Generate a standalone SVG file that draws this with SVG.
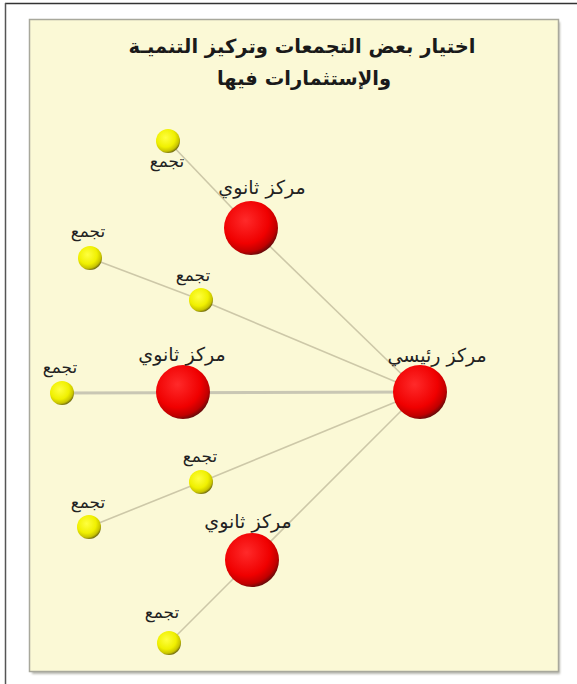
<svg xmlns="http://www.w3.org/2000/svg" width="577" height="684" viewBox="0 0 577 684">
  <style>
    .title { font-family: "DejaVu Sans", sans-serif; font-size: 19.5px; font-weight: bold; fill: #1a1a1a; text-anchor: middle; }
    .lbl-main { font-family: "DejaVu Sans", sans-serif; font-size: 19px; fill: #222; text-anchor: middle; }
    .lbl-small { font-family: "DejaVu Sans", sans-serif; font-size: 17px; fill: #222; text-anchor: middle; }
    .link { stroke: #cdc8a8; stroke-width: 1.6; fill: none; }
    .link-thick { stroke: #c9c7b4; stroke-width: 3; fill: none; }
  </style>
  <defs>
    <radialGradient id="redBall" cx="0.4" cy="0.36" r="0.66">
      <stop offset="0" stop-color="#ff2a2a"/>
      <stop offset="0.65" stop-color="#f00000"/>
      <stop offset="0.88" stop-color="#c00000"/>
      <stop offset="1" stop-color="#6a0a0a"/>
    </radialGradient>
    <radialGradient id="yellowBall" cx="0.4" cy="0.36" r="0.66">
      <stop offset="0" stop-color="#ffff40"/>
      <stop offset="0.6" stop-color="#f0f000"/>
      <stop offset="0.86" stop-color="#c8c400"/>
      <stop offset="1" stop-color="#6f6a10"/>
    </radialGradient>
    <filter id="shadow" x="-30%" y="-30%" width="160%" height="160%">
      <feGaussianBlur stdDeviation="1.2"/>
    </filter>
  </defs>

  <!-- page frame -->
  <rect x="0" y="0" width="577" height="684" fill="#ffffff"/>
  <line x1="5" y1="3.5" x2="577" y2="3.5" stroke="#333" stroke-width="1.5"/>
  <line x1="5.5" y1="3" x2="5.5" y2="684" stroke="#555" stroke-width="1.5"/>

  <!-- panel -->
  <rect x="32" y="22" width="528" height="652" fill="#b8b8b0" filter="url(#shadow)"/>
  <rect x="29.5" y="19.5" width="529" height="652" fill="#fbf9d6" stroke="#a8a89c" stroke-width="1.5"/>

  <!-- title -->
  <g id="title">
    <text class="title" x="302" y="53">اختيار بعض التجمعات وتركيز التنميـة</text>
    <text class="title" x="304" y="85">والإستثمارات فيها</text>
  </g>

  <!-- connectors -->
  <g id="connectors">
    <line class="link" x1="420" y1="392" x2="251" y2="228"/>
    <line class="link" x1="251" y1="228" x2="168" y2="141"/>
    <line class="link" x1="420" y1="392" x2="201" y2="300"/>
    <line class="link" x1="201" y1="300" x2="90" y2="258"/>
    <line class="link-thick" x1="420" y1="392" x2="62" y2="393"/>
    <line class="link" x1="420" y1="392" x2="201" y2="482"/>
    <line class="link" x1="201" y1="482" x2="89" y2="527"/>
    <line class="link" x1="420" y1="392" x2="252" y2="560"/>
    <line class="link" x1="252" y1="560" x2="169" y2="643"/>
  </g>

  <!-- main centre -->
  <g id="main-centre">
    <circle cx="420" cy="392" r="27" fill="url(#redBall)"/>
    <text class="lbl-main" x="437" y="362">مركز رئيسي</text>
  </g>

  <!-- secondary centres -->
  <g id="secondary-1">
    <circle cx="251" cy="228" r="27" fill="url(#redBall)"/>
    <text class="lbl-main" x="262" y="194">مركز ثانوي</text>
  </g>
  <g id="secondary-2">
    <circle cx="183" cy="392" r="27" fill="url(#redBall)"/>
    <text class="lbl-main" x="182" y="361">مركز ثانوي</text>
  </g>
  <g id="secondary-3">
    <circle cx="252" cy="560" r="27" fill="url(#redBall)"/>
    <text class="lbl-main" x="248" y="528">مركز ثانوي</text>
  </g>

  <!-- settlements -->
  <g id="settlement-1">
    <circle cx="168" cy="141" r="12" fill="url(#yellowBall)"/>
    <text class="lbl-small" x="167" y="167">تجمع</text>
  </g>
  <g id="settlement-2">
    <circle cx="90" cy="258" r="12" fill="url(#yellowBall)"/>
    <text class="lbl-small" x="88" y="237">تجمع</text>
  </g>
  <g id="settlement-3">
    <circle cx="201" cy="300" r="12" fill="url(#yellowBall)"/>
    <text class="lbl-small" x="193" y="281">تجمع</text>
  </g>
  <g id="settlement-4">
    <circle cx="62" cy="393" r="12" fill="url(#yellowBall)"/>
    <text class="lbl-small" x="60" y="373">تجمع</text>
  </g>
  <g id="settlement-5">
    <circle cx="201" cy="482" r="12" fill="url(#yellowBall)"/>
    <text class="lbl-small" x="200" y="462">تجمع</text>
  </g>
  <g id="settlement-6">
    <circle cx="89" cy="527" r="12" fill="url(#yellowBall)"/>
    <text class="lbl-small" x="88" y="508">تجمع</text>
  </g>
  <g id="settlement-7">
    <circle cx="169" cy="643" r="12" fill="url(#yellowBall)"/>
    <text class="lbl-small" x="162" y="618">تجمع</text>
  </g>
</svg>
